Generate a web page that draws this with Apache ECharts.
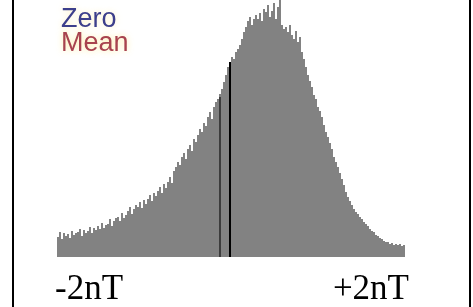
<!DOCTYPE html>
<html>
<head>
<meta charset="utf-8">
<script src="https://cdn.jsdelivr.net/npm/echarts@6/dist/echarts.min.js"></script>
<style>
html,body{margin:0;padding:0;background:#fff;}
#main{width:473px;height:307px;}
</style>
</head>
<body>
<div id="main"></div>
<script>
// histogram counts, -2nT .. +2nT
var counts = [
    20, 25, 18, 24, 21, 23, 19, 26, 22, 24,
    25, 28, 21, 27, 24, 26, 30, 24, 29, 27,
    31, 28, 34, 29, 32, 33, 38, 31, 36, 39,
    40, 36, 44, 39, 42, 46, 50, 43, 48, 52,
    50, 55, 49, 57, 53, 58, 62, 56, 64, 61,
    66, 70, 64, 73, 69, 75, 80, 74, 86, 90,
    95, 92, 100, 104, 98, 108, 112, 106, 118, 115,
    122, 128, 125, 134, 131, 140, 145, 138, 150, 155,
    158, 163, 168, 175, 182, 190, 195, 200, 198, 205,
    208, 212, 218, 225, 230, 236, 240, 232, 238, 242,
    238, 244, 236, 248, 245, 252, 240, 246, 254, 238,
    250, 257, 232, 228, 230, 225, 232, 222, 218, 226,
    215, 220, 205, 198, 190, 182, 176, 170, 162, 158,
    150, 146, 140, 132, 125, 120, 114, 108, 100, 95,
    90, 84, 78, 72, 65, 60, 56, 52, 48, 45,
    43, 40, 38, 35, 33, 31, 28, 26, 25, 22,
    21, 19, 18, 16, 15, 15, 13, 14, 12, 13,
    12, 13, 11, 12
];
var bins = [];
for (var i = 0; i < counts.length; i++) {
    bins.push(i);
}
// marker lines: bin index and drawn height
var zeroBin = 81, zeroHeight = 160;
var meanBin = 86, meanHeight = 195;
var axisLabels = ['-2nT', '+2nT'];

var myChart = echarts.init(document.getElementById('main'));
var option = {
    animation: false,
    grid: {left: 57, right: 68, top: 0, bottom: 50},
    xAxis: {
        type: 'category',
        data: bins,
        show: false
    },
    yAxis: {
        type: 'value',
        min: 0,
        max: 257,
        show: false
    },
    series: [
        {
            type: 'bar',
            data: counts,
            barWidth: '100%',
            itemStyle: {color: '#828282'},
            markLine: {
                symbol: 'none',
                silent: true,
                label: {show: false},
                data: [
                    [{coord: [zeroBin, 0], lineStyle: {color: '#3c3c3c', width: 2, type: 'solid'}}, {coord: [zeroBin, zeroHeight]}],
                    [{coord: [meanBin, 0], lineStyle: {color: '#000', width: 2, type: 'solid'}}, {coord: [meanBin, meanHeight]}]
                ]
            }
        }
    ],
    graphic: [
        {type: 'rect', shape: {x: 12, y: 0, width: 2, height: 307}, style: {fill: '#000'}},
        {type: 'rect', shape: {x: 469, y: 0, width: 2, height: 307}, style: {fill: '#000'}},
        {
            type: 'text', left: 61, top: 6,
            style: {text: 'Zero', fill: '#3d3f8c', font: '27px "Liberation Sans", Arial, sans-serif',
                textShadowColor: 'rgba(255,230,150,0.6)', textShadowBlur: 6}
        },
        {
            type: 'text', left: 61, top: 30,
            style: {text: 'Mean', fill: '#a8434f', font: '27px "Liberation Sans", Arial, sans-serif',
                textShadowColor: 'rgba(255,230,120,0.7)', textShadowBlur: 6}
        },
        {
            type: 'text', left: 55, top: 272,
            style: {text: axisLabels[0], fill: '#000', font: '35px "Liberation Serif", "DejaVu Serif", serif'}
        },
        {
            type: 'text', right: 64, top: 272,
            style: {text: axisLabels[1], fill: '#000', font: '35px "Liberation Serif", "DejaVu Serif", serif'}
        }
    ]
};
myChart.setOption(option);
</script>
</body>
</html>
